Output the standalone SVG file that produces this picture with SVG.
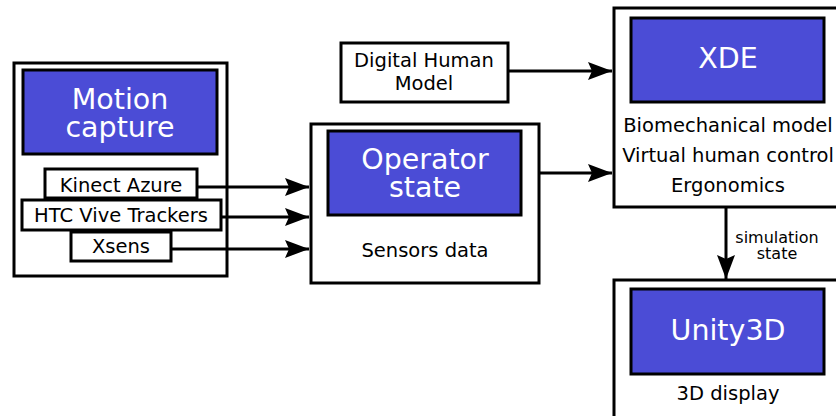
<svg xmlns="http://www.w3.org/2000/svg" width="836" height="416" viewBox="0 0 836 416">
<defs>
<style>
.box{fill:#fff;stroke:#000;stroke-width:3}
.blue{fill:#4b4cd6;stroke:#000;stroke-width:3}
.t{font-family:"DejaVu Sans",Verdana,sans-serif;text-anchor:middle;fill:#000}
.big{font-size:28.5px;fill:#fff}
.mid{font-size:19.5px}
.small{font-size:16px}
.c{stroke:#000;stroke-width:3;fill:none}
</style>
<marker id="ah" markerWidth="24" markerHeight="18" viewBox="0 0 24 18" refX="24" refY="9" orient="auto" markerUnits="userSpaceOnUse">
<path d="M0,0 L24,9 L0,18 L4,9 Z" fill="#000"/>
</marker>
</defs>
<rect width="836" height="416" fill="#fff"/>
<g id="motion-capture">
<rect class="box" x="14" y="63" width="213" height="213"/>
<rect class="blue" x="23" y="70" width="194" height="84"/>
<text class="t big" x="120" y="109">Motion</text>
<text class="t big" x="120" y="137">capture</text>
</g>
<g id="kinect">
<rect class="box" x="45" y="169" width="152" height="29"/>
<text class="t mid" x="121" y="192">Kinect Azure</text>
</g>
<g id="htc">
<rect class="box" x="22" y="200" width="199" height="30"/>
<text class="t mid" x="121" y="222">HTC Vive Trackers</text>
</g>
<g id="xsens">
<rect class="box" x="71" y="232" width="100" height="29"/>
<text class="t mid" x="121" y="253">Xsens</text>
</g>
<g id="digital-human-model">
<rect class="box" x="341" y="43" width="167" height="59"/>
<text class="t mid" x="424" y="67">Digital Human</text>
<text class="t mid" x="424" y="90">Model</text>
</g>
<g id="operator-state">
<rect class="box" x="311" y="124" width="228" height="159"/>
<rect class="blue" x="328" y="131" width="193" height="84"/>
<text class="t big" x="425" y="169">Operator</text>
<text class="t big" x="425" y="197">state</text>
<text class="t mid" x="425" y="257">Sensors data</text>
</g>
<g id="xde">
<rect class="box" x="614" y="8" width="230" height="199"/>
<rect class="blue" x="631" y="18" width="193" height="84"/>
<text class="t big" x="728" y="68">XDE</text>
<text class="t mid" x="728" y="132">Biomechanical model</text>
<text class="t mid" x="728" y="162">Virtual human control</text>
<text class="t mid" x="728" y="192">Ergonomics</text>
</g>
<g id="unity3d">
<rect class="box" x="614" y="280" width="230" height="150"/>
<rect class="blue" x="631" y="289" width="193" height="85"/>
<text class="t big" x="728" y="340">Unity3D</text>
<text class="t mid" x="728" y="400">3D display</text>
</g>
<g id="connectors">
<line class="c" x1="197" y1="187" x2="309" y2="187" marker-end="url(#ah)"/>
<line class="c" x1="221" y1="217" x2="309" y2="217" marker-end="url(#ah)"/>
<line class="c" x1="171" y1="249" x2="309" y2="249" marker-end="url(#ah)"/>
<line class="c" x1="508" y1="71" x2="612" y2="71" marker-end="url(#ah)"/>
<line class="c" x1="539" y1="173" x2="612" y2="173" marker-end="url(#ah)"/>
<line class="c" x1="726" y1="207" x2="726" y2="279" marker-end="url(#ah)"/>
<text class="t small" x="777" y="243">simulation</text>
<text class="t small" x="777" y="259">state</text>
</g>
</svg>
